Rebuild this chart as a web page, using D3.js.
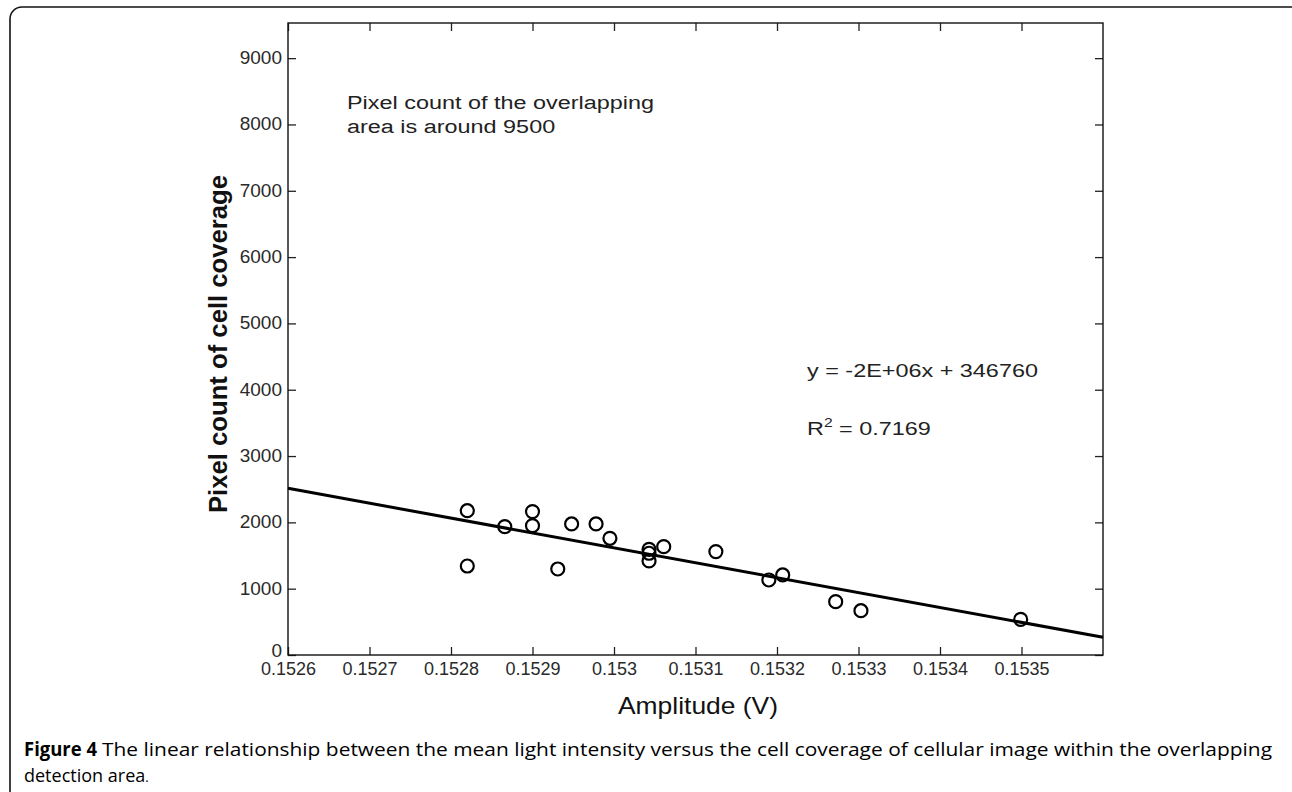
<!DOCTYPE html>
<html>
<head>
<meta charset="utf-8">
<script src="https://cdn.jsdelivr.net/npm/d3@7"></script>
<style>
  html, body { margin: 0; padding: 0; background: #fff; }
  svg text { font-family: "Liberation Sans", Arial, sans-serif; }
  .cap { font-family: "Open Sans", "Noto Sans", sans-serif; }
</style>
</head>
<body>
<script>
// amplitude (V) vs pixel count
const amplitude = [0.15282, 0.15282, 0.152866, 0.15290, 0.15290, 0.152931, 0.152948, 0.152978, 0.152995,
  0.153043, 0.153043, 0.153043, 0.153061, 0.153125, 0.15319, 0.153207, 0.153272, 0.153303, 0.153499];
const pixelCount = [2176, 1342, 1935, 2162, 1950, 1297, 1976, 1976, 1760,
  1594, 1534, 1418, 1634, 1559, 1131, 1207, 804, 668, 537];

// trend line end points (x, y)
const fitX = [0.1526, 0.1536];
const fitY = [2514, 267];

const xTicks = [0.1526, 0.1527, 0.1528, 0.1529, 0.153, 0.1531, 0.1532, 0.1533, 0.1534, 0.1535];
const xTickLabels = ["0.1526", "0.1527", "0.1528", "0.1529", "0.153", "0.1531", "0.1532", "0.1533", "0.1534", "0.1535"];
const yTicks = [0, 1000, 2000, 3000, 4000, 5000, 6000, 7000, 8000, 9000];
const yTickLabels = ["0", "1000", "2000", "3000", "4000", "5000", "6000", "7000", "8000", "9000"];

const width = 1292, height = 792;
const plot = { left: 288, top: 23, right: 1103, bottom: 655 };

const svg = d3.select('body').append('svg')
  .attr('width', width)
  .attr('height', height)
  .attr('viewBox', `0 0 ${width} ${height}`);

// outer rounded frame (runs off the bottom)
svg.append('rect')
  .attr('x', 10).attr('y', 7)
  .attr('width', 1300).attr('height', 820)
  .attr('rx', 12)
  .attr('fill', 'none')
  .attr('stroke', '#111')
  .attr('stroke-width', 1.6);

const x = d3.scaleLinear().domain([0.1526, 0.1536]).range([plot.left, plot.right]);
const y = d3.scaleLinear().domain([0, 9530]).range([plot.bottom, plot.top]);

// axes, ticks pointing inwards like matlab
const xLab = d => xTickLabels[xTicks.indexOf(d)];
const yLab = d => yTickLabels[yTicks.indexOf(d)];

const gB = svg.append('g').attr('transform', `translate(0,${plot.bottom})`)
  .call(d3.axisBottom(x).tickValues(xTicks).tickFormat(xLab).tickSizeInner(-8).tickSizeOuter(0).tickPadding(7));
const gT = svg.append('g').attr('transform', `translate(0,${plot.top})`)
  .call(d3.axisTop(x).tickValues(xTicks).tickFormat('').tickSizeInner(-8).tickSizeOuter(0));
const gL = svg.append('g').attr('transform', `translate(${plot.left},0)`)
  .call(d3.axisLeft(y).tickValues(yTicks).tickFormat(yLab).tickSizeInner(-8).tickSizeOuter(0).tickPadding(6));
const gR = svg.append('g').attr('transform', `translate(${plot.right},0)`)
  .call(d3.axisRight(y).tickValues(yTicks).tickFormat('').tickSizeInner(-8).tickSizeOuter(0));

[gB, gT, gL, gR].forEach(g => {
  g.select('.domain').remove();
  g.selectAll('line').attr('stroke', '#222').attr('stroke-width', 1.3);
  g.selectAll('text').attr('fill', '#2a2a2a').style('font-size', '19px');
});
gB.selectAll('text').style('font-size', '18px');
gL.selectAll('text').attr('dy', d => d === 0 ? '0.1em' : '0.28em');

svg.append('rect')
  .attr('x', plot.left).attr('y', plot.top)
  .attr('width', plot.right - plot.left).attr('height', plot.bottom - plot.top)
  .attr('fill', 'none').attr('stroke', '#111').attr('stroke-width', 1.4);

// trend line
svg.append('line')
  .attr('x1', x(fitX[0])).attr('y1', y(fitY[0]))
  .attr('x2', x(fitX[1])).attr('y2', y(fitY[1]))
  .attr('stroke', '#000').attr('stroke-width', 3);

// markers
svg.append('g').selectAll('circle')
  .data(amplitude.map((a, i) => [a, pixelCount[i]]))
  .join('circle')
  .attr('cx', d => x(d[0]))
  .attr('cy', d => y(d[1]))
  .attr('r', 6.5)
  .attr('fill', 'none')
  .attr('stroke', '#000')
  .attr('stroke-width', 2.2);

// annotations - the original text boxes are drawn a bit wide
const note = svg.append('g').attr('fill', '#222').style('font-size', '18px');
const stretch = t => t.attr('textLength', t.node().getComputedTextLength() * 1.3)
  .attr('lengthAdjust', 'spacingAndGlyphs');
stretch(note.append('text').attr('x', 347).attr('y', 109).text('Pixel count of the overlapping'));
stretch(note.append('text').attr('x', 347).attr('y', 133).text('area is around 9500'));
stretch(note.append('text').attr('x', 807).attr('y', 377).text('y = -2E+06x + 346760'));
const r2 = note.append('text').attr('x', 807).attr('y', 435);
r2.append('tspan').text('R');
r2.append('tspan').attr('dy', -8).style('font-size', '12px').text('2');
r2.append('tspan').attr('dy', 8).text(' = 0.7169');
stretch(r2);

// axis titles
svg.append('text')
  .attr('transform', `translate(227,344) rotate(-90)`)
  .attr('text-anchor', 'middle')
  .attr('textLength', 338).attr('lengthAdjust', 'spacingAndGlyphs')
  .style('font-size', '26px').style('font-weight', 'bold')
  .attr('fill', '#111')
  .text('Pixel count of cell coverage');

svg.append('text')
  .attr('x', 698).attr('y', 714)
  .attr('text-anchor', 'middle')
  .attr('textLength', 160).attr('lengthAdjust', 'spacingAndGlyphs')
  .style('font-size', '24px')
  .attr('fill', '#111')
  .text('Amplitude (V)');

// caption
svg.append('text').attr('class', 'cap')
  .attr('x', 24).attr('y', 756)
  .attr('textLength', 73).attr('lengthAdjust', 'spacingAndGlyphs')
  .style('font-size', '19px').style('font-weight', 'bold')
  .text('Figure 4');
svg.append('text').attr('class', 'cap')
  .attr('x', 102).attr('y', 756)
  .attr('textLength', 1170).attr('lengthAdjust', 'spacingAndGlyphs')
  .style('font-size', '19px')
  .text('The linear relationship between the mean light intensity versus the cell coverage of cellular image within the overlapping');
const cap2 = svg.append('text').attr('class', 'cap')
  .attr('x', 24).attr('y', 782)
  .style('font-size', '18px');
cap2.append('tspan').text('detection area');
cap2.append('tspan').style('font-size', '13px').text('.');
</script>
</body>
</html>
